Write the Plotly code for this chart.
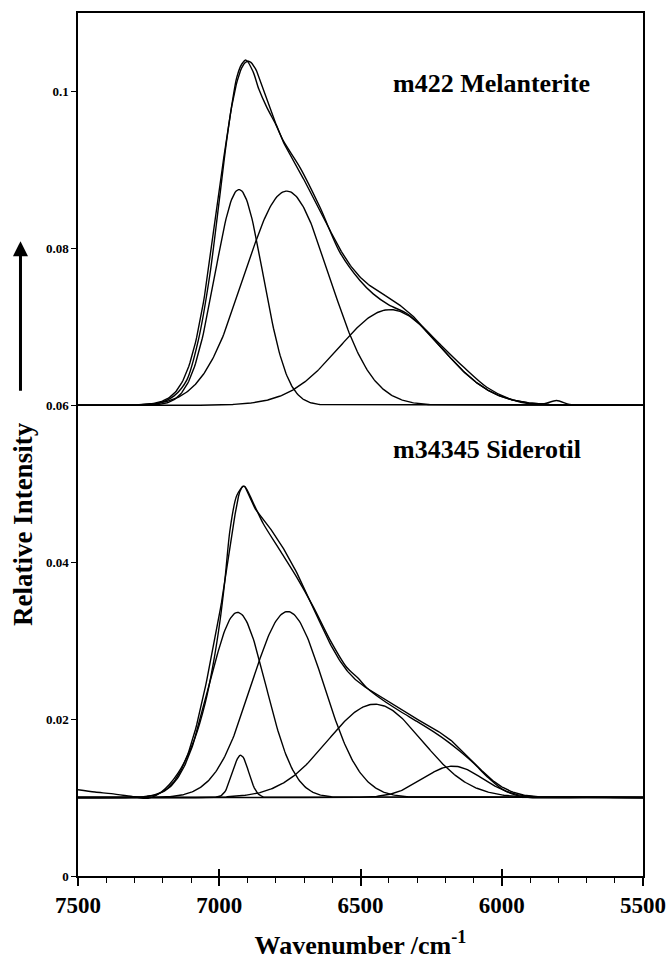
import numpy as np
import plotly.graph_objects as go

# ---------------- data ----------------
x_range = [7500, 5500]
y_range = [0, 0.11]
x_tickvals = [7500, 7000, 6500, 6000, 5500]
y_tickvals = [0, 0.02, 0.04, 0.06, 0.08, 0.1]
y_ticktext = ["0", "0.02", "0.04", "0.06", "0.08", "0.1"]

# upper spectrum : m422 Melanterite (offset baseline 0.06)
mel_label = "m422 Melanterite"
mel_baseline = 0.06
mel_centers = [6930, 6761, 6395]          # band centres / cm-1
mel_heights = [0.0275, 0.0273, 0.0122]    # band heights above baseline
mel_sigmas = [85, 150, 180]               # gaussian widths / cm-1
mel_obs_wn = [7500, 7400, 7300, 7220, 7160, 7115, 7074, 7033, 7003, 6974, 6950,
              6938, 6920, 6905, 6880, 6860, 6832, 6800, 6773, 6714, 6643, 6573,
              6502, 6455, 6400, 6336, 6280, 6219, 6136, 6053, 5971, 5900, 5850,
              5806, 5760, 5700, 5600, 5500]
mel_obs_int = [0.0600, 0.0600, 0.0600, 0.0602, 0.0612, 0.0632, 0.0683, 0.0767,
               0.0852, 0.0937, 0.0995, 0.1018, 0.1035, 0.1040, 0.1025, 0.1003,
               0.0980, 0.0958, 0.0937, 0.0903, 0.0852, 0.0795, 0.0759, 0.0742,
               0.0728, 0.0717, 0.0700, 0.0678, 0.0649, 0.0623, 0.0608, 0.0602,
               0.0602, 0.0606, 0.0601, 0.0600, 0.0600, 0.0600]

# lower spectrum : m34345 Siderotil (offset baseline 0.01)
sid_label = "m34345 Siderotil"
sid_baseline = 0.01
sid_centers = [6935, 6924, 6758, 6449, 6173]
sid_heights = [0.0236, 0.0054, 0.0237, 0.0119, 0.0040]
sid_sigmas = [100, 28, 128, 168, 105]
sid_obs_wn = [7500, 7440, 7382, 7300, 7252, 7205, 7146, 7087, 7050, 7021, 6997,
              6980, 6962, 6938, 6912, 6879, 6844, 6785, 6726, 6667, 6608, 6549,
              6508, 6478, 6420, 6360, 6300, 6242, 6190, 6148, 6100, 6050, 6000,
              5950, 5900, 5700, 5500]
sid_obs_int = [0.0110, 0.0107, 0.0105, 0.0101, 0.0099, 0.0107, 0.0131, 0.0175,
               0.0220, 0.0271, 0.0326, 0.0377, 0.0441, 0.0485, 0.0497, 0.0475,
               0.0449, 0.0415, 0.0381, 0.0343, 0.0301, 0.0266, 0.0252, 0.0240,
               0.0224, 0.0210, 0.0197, 0.0184, 0.0171, 0.0159, 0.0144, 0.0126,
               0.0111, 0.0103, 0.0100, 0.0100, 0.0100]

# ---------------- figure ----------------
FONT = "Liberation Serif, Times New Roman, serif"
wn = np.arange(5500, 7500.1, 4.0)

fig = go.Figure()
line = dict(color="black", width=1.4)


def add_spectrum(baseline, centers, heights, sigmas, obs_wn, obs_int):
    total = np.full_like(wn, baseline)
    for c, h, s in zip(centers, heights, sigmas):
        band = h * np.exp(-((wn - c) ** 2) / (2.0 * s ** 2))
        total = total + band
        fig.add_trace(go.Scatter(x=wn, y=baseline + band, mode="lines",
                                 line=line, hoverinfo="skip"))
    fig.add_trace(go.Scatter(x=wn, y=total, mode="lines", line=line,
                             hoverinfo="skip"))
    fig.add_trace(go.Scatter(x=obs_wn, y=obs_int, mode="lines",
                             line=dict(color="black", width=1.4, shape="spline",
                                       smoothing=0.8),
                             xaxis="x2", hoverinfo="skip"))


add_spectrum(mel_baseline, mel_centers, mel_heights, mel_sigmas,
             mel_obs_wn, mel_obs_int)
add_spectrum(sid_baseline, sid_centers, sid_heights, sid_sigmas,
             sid_obs_wn, sid_obs_int)

fig.update_layout(
    width=670, height=969, autosize=False,
    margin=dict(l=78, r=27, t=13, b=93, autoexpand=False),
    paper_bgcolor="white", plot_bgcolor="white",
    showlegend=False,
    font=dict(family=FONT, color="black"),
    xaxis=dict(
        range=x_range, tickvals=x_tickvals, ticks="outside", ticklen=8,
        tickwidth=1.5, tickcolor="black", showline=True, linecolor="black",
        linewidth=1.5, mirror=True, showgrid=False, zeroline=False,
        automargin=False,
        tickfont=dict(family=FONT, size=23, color="black", weight="bold"),
        minor=dict(dtick=100, tick0=5500, ticks="outside", ticklen=5,
                   tickwidth=1, tickcolor="black", showgrid=False),
        title=dict(text="Wavenumber /cm<sup>-1</sup>", standoff=18,
                   font=dict(family=FONT, size=26, color="black", weight="bold")),
    ),
    xaxis2=dict(
        overlaying="x", anchor="y", side="bottom", range=x_range,
        tickvals=x_tickvals, ticks="inside", ticklen=7, tickwidth=1.5,
        tickcolor="black", showticklabels=False, showline=False,
        showgrid=False, zeroline=False, automargin=False,
    ),
    yaxis=dict(
        range=y_range, tickvals=y_tickvals, ticktext=y_ticktext,
        ticks="outside", ticklen=5, tickwidth=1.2, tickcolor="black",
        showline=True, linecolor="black", linewidth=1.5, mirror=True,
        showgrid=False, zeroline=False, automargin=False,
        tickfont=dict(family=FONT, size=13, color="black", weight="bold"),
    ),
)

# sample labels
fig.add_annotation(x=6392, y=0.1010, xref="x", yref="y", text=mel_label,
                   showarrow=False, xanchor="left", yanchor="middle",
                   font=dict(family=FONT, size=26, color="black", weight="bold"))
fig.add_annotation(x=6392, y=0.0544, xref="x", yref="y", text=sid_label,
                   showarrow=False, xanchor="left", yanchor="middle",
                   font=dict(family=FONT, size=26, color="black", weight="bold"))

# y-axis title and arrow
fig.add_annotation(x=-0.097, y=0.408, xref="paper", yref="paper",
                   text="Relative Intensity", textangle=-90, showarrow=False,
                   xanchor="center", yanchor="middle",
                   font=dict(family=FONT, size=27, color="black", weight="bold"))
fig.add_annotation(x=-0.1018, y=0.7356, xref="paper", yref="paper", text="",
                   showarrow=True, ax=0, ay=151, axref="pixel", ayref="pixel",
                   arrowhead=2, arrowsize=1.0, arrowwidth=3, arrowcolor="black")

fig.write_html("out.html")
